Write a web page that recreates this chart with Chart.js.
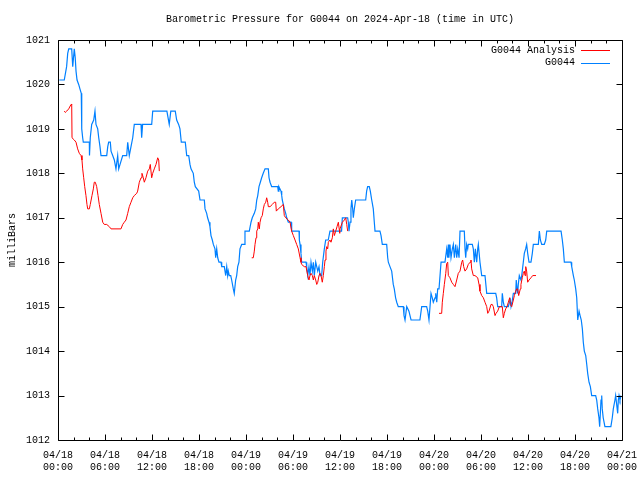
<!DOCTYPE html>
<html>
<head>
<meta charset="utf-8">
<script src="https://cdn.jsdelivr.net/npm/chart.js@4"></script>
<style>
  html, body { margin: 0; padding: 0; background: #fff; }
  #chart { display: block; }
</style>
</head>
<body>
<canvas id="chart" width="640" height="480"></canvas>
<script>
// hours since 04/18 00:00 UTC, pressure in mb
const blueHours = [
    0.17, 0.8, 1.1, 1.24, 1.37, 1.75, 1.88, 2.08, 2.2, 2.3,
    2.43, 2.64, 2.8, 2.97, 3.03, 3.15, 3.23, 4.0, 4.02, 4.12,
    4.3, 4.56, 4.72, 4.85, 5.07, 5.2, 5.36, 5.49, 6.22, 6.35,
    6.47, 6.68, 6.77, 6.98, 7.19, 7.4, 7.62, 7.75, 7.92, 8.26,
    8.77, 8.9, 9.1, 9.32, 9.54, 9.74, 10.6, 10.68, 10.8, 11.96,
    12.09, 13.9, 14.2, 14.4, 14.97, 15.15, 15.4, 15.57, 15.74, 16.25,
    16.43, 16.69, 16.85, 16.98, 17.27, 17.4, 17.53, 17.96, 18.13, 18.68,
    18.77, 18.98, 19.1, 19.28, 19.4, 19.53, 19.7, 19.83, 20.04, 20.13,
    20.26, 20.39, 20.55, 20.81, 20.9, 21.23, 21.32, 21.41, 21.54, 21.66,
    21.74, 21.87, 22.05, 22.17, 22.38, 22.5, 22.68, 22.81, 22.94, 23.1,
    23.23, 23.45, 23.78, 23.87, 24.42, 24.64, 24.8, 25.06, 25.24, 25.37,
    25.5, 25.66, 25.83, 26.0, 26.2, 26.43, 26.85, 26.94, 27.07, 27.28,
    28.05, 28.12, 28.2, 28.47, 28.56, 28.63, 28.76, 28.89, 29.07, 29.2,
    29.4, 29.75, 29.83, 30.77, 30.81, 30.9, 31.02, 31.1, 31.66, 31.75,
    31.88, 32.04, 32.17, 32.3, 32.47, 32.6, 32.72, 32.9, 33.03, 33.16,
    33.32, 33.45, 33.66, 33.79, 34.0, 34.17, 34.5, 34.72, 36.2, 36.3,
    36.98, 37.06, 37.15, 37.28, 37.4, 37.5, 37.62, 37.7, 37.83, 38.0,
    39.28, 39.4, 39.53, 39.74, 39.87, 40.05, 40.25, 40.38, 40.47, 41.1,
    41.24, 41.4, 41.96, 42.09, 42.17, 42.38, 42.6, 42.8, 42.93, 43.1,
    43.24, 43.44, 44.08, 44.17, 44.3, 44.52, 44.8, 45.07, 46.2, 46.43,
    47.06, 47.2, 47.36, 47.62, 47.78, 47.91, 48.13, 48.22, 48.35, 48.47,
    48.64, 48.9, 49.4, 49.62, 49.75, 49.83, 49.9, 50.04, 50.17, 50.34,
    50.47, 50.6, 50.77, 50.9, 51.03, 51.2, 51.32, 51.87, 51.96, 52.05,
    52.17, 52.3, 52.38, 52.89, 53.02, 53.15, 53.28, 53.45, 53.58, 53.66,
    53.87, 54.09, 54.51, 54.73, 55.88, 56.0, 56.13, 56.64, 56.72, 56.85,
    56.98, 57.49, 57.62, 57.7, 57.83, 57.96, 58.13, 58.43, 58.5, 58.6,
    58.68, 58.76, 58.89, 59.1, 59.2, 59.4, 59.53, 59.7, 59.83, 59.96,
    60.13, 60.38, 60.55, 60.68, 61.32, 61.45, 61.58, 61.75, 62.08, 62.26,
    62.39, 64.22, 64.38, 64.51, 64.64, 65.49, 65.58, 65.79, 65.91, 66.09,
    66.22, 66.35, 66.43, 66.52, 66.65, 66.8, 66.94, 67.06, 67.19, 67.37,
    67.5, 67.62, 67.79, 67.96, 68.13, 68.64, 68.77, 68.9, 69.06, 69.15,
    69.32, 69.41, 69.48, 69.6, 69.82, 70.58, 70.76, 70.89, 71.1, 71.19,
    71.32, 71.45, 71.53, 71.62, 71.74, 71.87
];
const bluePressure = [
    1020.1, 1020.1, 1020.4, 1020.7, 1020.8, 1020.8, 1020.4, 1020.8, 1020.6, 1020.3,
    1020.1, 1020.0, 1019.9, 1019.8, 1019.0, 1018.8, 1018.7, 1018.7, 1018.4, 1018.8,
    1019.1, 1019.2, 1019.4, 1019.1, 1019.0, 1018.8, 1018.6, 1018.4, 1018.4, 1018.6,
    1018.7, 1018.7, 1018.5, 1018.4, 1018.3, 1018.1, 1018.4, 1018.1, 1018.2, 1018.4,
    1018.4, 1018.7, 1018.4, 1018.6, 1018.8, 1019.1, 1019.1, 1018.8, 1019.1, 1019.1,
    1019.4, 1019.4, 1019.1, 1019.4, 1019.4, 1019.2, 1019.1, 1019.0, 1018.7, 1018.7,
    1018.4, 1018.4, 1018.2, 1018.1, 1018.0, 1017.8, 1017.7, 1017.6, 1017.4, 1017.4,
    1017.2, 1017.1, 1017.0, 1016.9, 1016.8, 1016.6, 1016.5, 1016.4, 1016.3, 1016.1,
    1016.3, 1016.1, 1016.0, 1016.0, 1015.9, 1015.9, 1015.8, 1015.7, 1015.9, 1015.7,
    1015.8, 1015.7, 1015.7, 1015.6, 1015.4, 1015.3, 1015.6, 1015.7, 1015.9, 1016.0,
    1016.3, 1016.4, 1016.4, 1016.7, 1016.7, 1016.9, 1017.0, 1017.1, 1017.2, 1017.4,
    1017.5, 1017.7, 1017.8, 1017.9, 1018.0, 1018.1, 1018.1, 1017.9, 1017.8, 1017.7,
    1017.7, 1017.6, 1017.7, 1017.6, 1017.5, 1017.4, 1017.3, 1017.2, 1017.1, 1017.0,
    1016.9, 1016.9, 1016.7, 1016.7, 1016.5, 1016.4, 1016.2, 1016.0, 1016.0, 1015.9,
    1015.7, 1015.9, 1015.7, 1016.0, 1015.8, 1016.0, 1015.7, 1016.0, 1015.9, 1015.8,
    1015.9, 1015.7, 1015.7, 1016.0, 1016.3, 1016.5, 1016.5, 1016.7, 1016.7, 1017.0,
    1017.0, 1016.9, 1016.7, 1016.9, 1017.2, 1017.4, 1017.2, 1017.0, 1017.2, 1017.4,
    1017.4, 1017.6, 1017.7, 1017.7, 1017.6, 1017.4, 1017.2, 1016.9, 1016.7, 1016.7,
    1016.6, 1016.4, 1016.4, 1016.1, 1016.0, 1015.9, 1015.8, 1015.5, 1015.4, 1015.2,
    1015.1, 1015.0, 1015.0, 1014.8, 1014.7, 1015.0, 1014.9, 1014.7, 1014.7, 1015.0,
    1015.0, 1014.9, 1014.7, 1015.3, 1015.2, 1015.1, 1015.2, 1015.3, 1015.1, 1015.4,
    1015.4, 1016.0, 1016.0, 1016.3, 1016.1, 1016.4, 1016.1, 1016.4, 1016.1, 1016.3,
    1016.4, 1016.1, 1016.4, 1016.1, 1016.3, 1016.1, 1016.7, 1016.7, 1016.3, 1016.1,
    1016.4, 1016.3, 1016.4, 1016.4, 1016.3, 1016.0, 1016.3, 1016.0, 1016.3, 1016.4,
    1016.0, 1015.7, 1015.7, 1015.3, 1015.3, 1015.2, 1015.0, 1015.0, 1015.3, 1015.1,
    1015.0, 1015.0, 1015.1, 1015.2, 1015.0, 1015.1, 1015.3, 1015.3, 1015.6, 1015.4,
    1015.3, 1015.5, 1015.7, 1015.6, 1015.7, 1016.0, 1016.2, 1016.3, 1016.4, 1016.2,
    1016.0, 1016.0, 1016.2, 1016.4, 1016.4, 1016.7, 1016.5, 1016.4, 1016.4, 1016.5,
    1016.7, 1016.7, 1016.5, 1016.3, 1016.0, 1016.0, 1015.9, 1015.7, 1015.6, 1015.4,
    1015.2, 1014.7, 1014.8, 1014.9, 1014.8, 1014.7, 1014.5, 1014.2, 1014.0, 1013.9,
    1013.7, 1013.5, 1013.3, 1013.2, 1013.0, 1013.0, 1012.9, 1012.7, 1012.5, 1012.3,
    1012.9, 1013.0, 1012.7, 1012.5, 1012.3, 1012.3, 1012.5, 1012.7, 1012.9, 1013.0,
    1012.8, 1012.6, 1012.9, 1013.0, 1012.9, 1013.0
];

// analysis series, null = gap in the record
const redHours = [
    0.8, 0.93, 1.11, 1.37, 1.66, 1.75, 1.79, 2.08, 2.3, 2.51,
    2.72, 2.94, 3.06, 3.15, 3.28, 3.41, 3.57, 3.7, 3.79, 4.0,
    4.12, 4.34, 4.51, 4.63, 4.76, 4.94, 5.11, 5.27, 5.49, 5.71,
    5.91, 6.22, 6.55, 6.77, 8.04, 8.26, 8.46, 8.68, 8.9, 9.1,
    9.32, 9.54, 9.74, 10.05, 10.17, 10.38, 10.6, 10.72, 10.89, 11.02,
    11.23, 11.45, 11.66, 11.78, 11.96, 12.09, 12.29, 12.51, 12.73, 12.86,
    12.93, 18.0,
    24.73, 24.93, 25.06, 25.15, 25.28, 25.37, 25.5, 25.57, 25.7, 25.79,
    25.92, 26.08, 26.21, 26.34, 26.52, 26.64, 26.77, 26.85, 27.07, 27.36,
    27.61, 27.79, 27.87, 28.12, 28.47, 28.76, 28.89, 29.07, 29.4, 29.62,
    29.83, 30.04, 30.26, 30.47, 30.68, 30.9, 31.02, 31.11, 31.44, 31.66,
    31.88, 32.04, 32.17, 32.3, 32.47, 32.6, 32.72, 32.9, 33.03, 33.16,
    33.32, 33.45, 33.58, 33.74, 33.87, 34.0, 34.09, 34.21, 34.3, 34.43,
    34.51, 34.72, 34.85, 35.02, 35.15, 35.28, 35.45, 35.62, 35.79, 35.97,
    36.0, 36.3, 36.56, 36.73, 36.86, 36.98, 42.0,
    48.64, 48.98, 49.06, 49.19, 49.32, 49.5, 49.62, 49.75, 49.83, 50.04,
    50.26, 50.47, 50.68, 50.9, 51.1, 51.32, 51.54, 51.66, 51.79, 51.96,
    52.17, 52.38, 52.6, 52.72, 52.81, 53.02, 53.23, 53.58, 53.75, 53.87,
    54.09, 54.3, 54.51, 54.73, 54.86, 55.02, 55.28, 55.44, 55.57, 55.79,
    55.92, 56.13, 56.34, 56.72, 56.85, 56.98, 57.15, 57.32, 57.49, 57.66,
    57.74, 57.92, 58.13, 58.26, 58.43, 58.56, 58.68, 58.81, 59.02, 59.1,
    59.27, 59.4, 59.53, 59.62, 59.71, 59.83, 59.96, 60.13, 60.38, 60.6,
    61.02
];
const redPressure = [
    1019.4, 1019.37, 1019.4, 1019.45, 1019.55, 1019.56, 1018.8, 1018.75, 1018.7, 1018.55,
    1018.45, 1018.4, 1018.3, 1018.1, 1017.9, 1017.7, 1017.5, 1017.3, 1017.2, 1017.2,
    1017.3, 1017.5, 1017.65, 1017.8, 1017.8, 1017.7, 1017.5, 1017.3, 1017.1, 1016.9,
    1016.85, 1016.85, 1016.8, 1016.75, 1016.75, 1016.85, 1016.9, 1016.95, 1017.1, 1017.25,
    1017.35, 1017.45, 1017.5, 1017.55, 1017.6, 1017.8, 1017.9, 1018.0, 1017.9, 1017.8,
    1017.9, 1018.05, 1018.1, 1018.2, 1017.9, 1018.0, 1018.1, 1018.2, 1018.35, 1018.3,
    1018.05, null,
    1016.1, 1016.1, 1016.25, 1016.4, 1016.55, 1016.7, 1016.75, 1016.9, 1016.75, 1016.9,
    1017.0, 1017.05, 1017.2, 1017.3, 1017.35, 1017.45, 1017.35, 1017.25, 1017.25, 1017.3,
    1017.35, 1017.35, 1017.15, 1017.2, 1017.25, 1017.3, 1017.05, 1017.0, 1016.95, 1016.9,
    1016.7, 1016.6, 1016.5, 1016.4, 1016.3, 1016.1, 1016.0, 1015.95, 1015.9, 1015.9,
    1015.7, 1015.6, 1015.7, 1015.75, 1015.7, 1015.6, 1015.7, 1015.6, 1015.5, 1015.55,
    1015.7, 1015.75, 1015.7, 1015.55, 1015.7, 1015.9, 1016.05, 1016.25, 1016.35, 1016.3,
    1016.45, 1016.5, 1016.45, 1016.55, 1016.75, 1016.6, 1016.7, 1016.8, 1016.9, 1016.65,
    1016.75, 1016.9, 1016.95, 1017.0, 1016.85, 1016.7, null,
    1014.85, 1014.85, 1015.1, 1015.3, 1015.5, 1015.75, 1015.97, 1016.0, 1015.7, 1015.65,
    1015.55, 1015.5, 1015.45, 1015.6, 1015.75, 1015.8, 1016.0, 1016.05, 1015.9, 1015.8,
    1015.85, 1015.95, 1016.0, 1016.05, 1015.85, 1015.7, 1015.7, 1015.65, 1015.5, 1015.35,
    1015.25, 1015.2, 1015.1, 1015.0, 1014.85, 1014.9, 1015.05, 1015.05, 1015.0, 1014.8,
    1014.85, 1014.9, 1015.0, 1015.0, 1014.75, 1014.85, 1014.95, 1015.0, 1015.1, 1015.2,
    1015.05, 1015.0, 1015.15, 1015.25, 1015.35, 1015.4, 1015.4, 1015.25, 1015.4, 1015.5,
    1015.65, 1015.75, 1015.8, 1015.7, 1015.9, 1015.8, 1015.55, 1015.6, 1015.65, 1015.7,
    1015.7
];

const dayLabels = ["04/18", "04/19", "04/20", "04/21"];
const timeLabels = { 0: "00:00", 6: "06:00", 12: "12:00", 18: "18:00" };

const FONT = "'Liberation Mono', 'DejaVu Sans Mono', monospace";

function toPoints(xs, ys) {
    return xs.map((x, i) => ({ x: x, y: ys[i] }));
}

// frame, inward ticks, title and legend in the gnuplot style
const gnuplotFrame = {
    id: "gnuplotFrame",
    afterDraw(chart) {
        const ctx = chart.ctx;
        const a = chart.chartArea;
        const xs = chart.scales.x;
        const ys = chart.scales.y;
        const L = Math.round(a.left) + 0.5;
        const R = Math.round(a.right) + 0.5;
        const T = Math.round(a.top) + 0.5;
        const B = Math.round(a.bottom) + 0.5;

        ctx.save();
        ctx.strokeStyle = "#000";
        ctx.lineWidth = 1;
        ctx.beginPath();
        ctx.rect(L, T, R - L, B - T);

        // x ticks every 2 hours, longer every 6
        for (let h = 0; h <= 72; h += 2) {
            const px = Math.round(xs.getPixelForValue(h)) + 0.5;
            const len = h % 6 === 0 ? 6 : 3;
            ctx.moveTo(px, B);
            ctx.lineTo(px, B - len);
            ctx.moveTo(px, T);
            ctx.lineTo(px, T + len);
        }
        for (let p = 1012; p <= 1021; p++) {
            const py = Math.round(ys.getPixelForValue(p)) + 0.5;
            ctx.moveTo(L, py);
            ctx.lineTo(L + 6, py);
            ctx.moveTo(R, py);
            ctx.lineTo(R - 6, py);
        }
        ctx.stroke();

        // title
        ctx.fillStyle = "#000";
        ctx.font = "10px " + FONT;
        ctx.textAlign = "center";
        ctx.textBaseline = "middle";
        ctx.fillText("Barometric Pressure for G0044 on 2024-Apr-18 (time in UTC)", (a.left + a.right) / 2, 19);

        // legend
        ctx.textAlign = "right";
        chart.data.datasets.forEach((ds, i) => {
            const ly = 50 + i * 12.5;
            ctx.fillStyle = "#000";
            ctx.fillText(ds.label, 575, ly);
            ctx.strokeStyle = ds.borderColor;
            ctx.beginPath();
            ctx.moveTo(581, Math.round(ly) + 0.5);
            ctx.lineTo(610, Math.round(ly) + 0.5);
            ctx.stroke();
        });
        ctx.restore();
    },
};

const ctx = document.getElementById("chart").getContext("2d");
const chart = new Chart(ctx, {
    type: "line",
    data: {
        datasets: [
            {
                label: "G0044 Analysis",
                data: toPoints(redHours, redPressure),
                borderColor: "#ff0000",
                borderWidth: 1,
                pointRadius: 0,
                spanGaps: false,
                tension: 0,
            },
            {
                label: "G0044",
                data: toPoints(blueHours, bluePressure),
                borderColor: "#0080ff",
                borderWidth: 1.2,
                pointRadius: 0,
                tension: 0,
            },
        ],
    },
    options: {
        responsive: false,
        animation: false,
        devicePixelRatio: 1,
        layout: {
            padding: { top: 40, right: 18, left: 0, bottom: 0 },
        },
        plugins: {
            legend: { display: false },
            title: { display: false },
            tooltip: { enabled: false },
        },
        scales: {
            x: {
                type: "linear",
                min: 0,
                max: 72,
                grid: { display: false, drawTicks: false },
                border: { display: false },
                afterFit: (scale) => {
                    scale.height = 40;
                    scale.paddingLeft = 0;
                    scale.paddingRight = 0;
                },
                ticks: {
                    stepSize: 6,
                    autoSkip: false,
                    maxRotation: 0,
                    padding: 9,
                    color: "#000",
                    font: { family: FONT, size: 10, lineHeight: 1.2 },
                    callback: (value) => {
                        const day = Math.floor(value / 24);
                        return [dayLabels[day], timeLabels[value % 24]];
                    },
                },
            },
            y: {
                min: 1012,
                max: 1021,
                grid: { display: false, drawTicks: false },
                border: { display: false },
                afterFit: (scale) => {
                    scale.width = 58;
                    scale.paddingTop = 0;
                    scale.paddingBottom = 0;
                },
                ticks: {
                    stepSize: 1,
                    padding: 8,
                    color: "#000",
                    font: { family: FONT, size: 10 },
                    callback: (value) => String(value),
                },
                title: {
                    display: true,
                    text: "milliBars",
                    color: "#000",
                    padding: { top: 6, bottom: 0 },
                    font: { family: FONT, size: 10 },
                },
            },
        },
    },
    plugins: [gnuplotFrame],
});
</script>
</body>
</html>
